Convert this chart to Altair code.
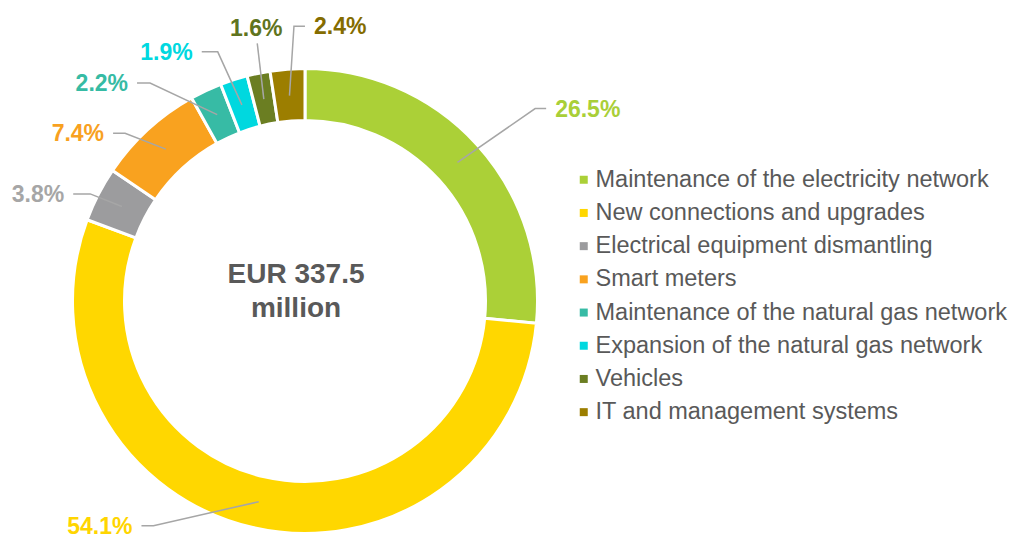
import math
import altair as alt
import pandas as pd

# ---------------- data ----------------
categories = [
    "Maintenance of the electricity network",
    "New connections and upgrades",
    "Electrical equipment dismantling",
    "Smart meters",
    "Maintenance of the natural gas network",
    "Expansion of the natural gas network",
    "Vehicles",
    "IT and management systems",
]
shares = [26.5, 54.1, 3.8, 7.4, 2.2, 1.9, 1.6, 2.4]
center_lines = ["EUR 337.5", "million"]

# ---------------- styles ----------------
slice_colors = ["#ABD037", "#FFD700", "#9C9C9E", "#F9A21F",
                "#37BBA5", "#00D8DF", "#6B7E22", "#9C7E00"]
label_colors = ["#A9CF38", "#FFD500", "#A6A6A6", "#F8A11F",
                "#36BBA4", "#00D8E0", "#5F7420", "#846C00"]

# ---------------- layout (label placement, not data) ----------------
CX, CY = 297, 293          # donut centre (px)
R_OUT, R_IN = 232.5, 180.5
R_START = 206              # where leader lines begin inside the ring
elbow_angle = [50.1, 214.0, 296.5, 313.0, 324.6, 340.7, 349.5, 357.7]
elbow_radius = [300, 271, 240, 246, 267.5, 264, 262, 275]
hseg = [11, -12, -17, -12, -13, -16, 0, 11]
label_gap = 9

total = sum(shares)
cum = 0.0
line_rows, text_rows = [], []
for i, (cat, s) in enumerate(zip(categories, shares)):
    mid = (cum + s / 2) / total * 360
    cum += s

    def pt(theta, r):
        t = math.radians(theta)
        return CX + r * math.sin(t), CY - r * math.cos(t)

    x0, y0 = pt(mid, R_START)
    x1, y1 = pt(elbow_angle[i], elbow_radius[i])
    x2, y2 = x1 + hseg[i], y1
    for k, (x, y) in enumerate([(x0, y0), (x1, y1), (x2, y2)]):
        line_rows.append({"id": i, "k": k, "x": x, "y": y})
    if hseg[i] > 0:
        align, tx, ty = "left", x2 + label_gap, y2 + 1
    elif hseg[i] < 0:
        align, tx, ty = "right", x2 - label_gap, y2 + 1
    else:
        align, tx, ty = "center", x2 - 1, y2 - 14
    text_rows.append({"label": f"{s:.1f}%", "x": tx, "y": ty,
                      "align": align, "color": label_colors[i]})

arc_df = pd.DataFrame({"category": categories, "share": shares,
                       "idx": list(range(len(shares)))})
line_df = pd.DataFrame(line_rows)
text_df = pd.DataFrame(text_rows)
center_df = pd.DataFrame({"t": center_lines, "x": [288, 288], "y": [275, 309]})

FONT = "Liberation Sans"

donut = alt.Chart(arc_df).mark_arc(
    radius=R_OUT, radius2=R_IN, stroke="white", strokeWidth=3
).encode(
    theta=alt.Theta("share:Q", stack=True),
    order=alt.Order("idx:Q"),
    x=alt.value(CX),
    y=alt.value(CY),
    color=alt.Color(
        "category:N",
        sort=categories,
        scale=alt.Scale(domain=categories, range=slice_colors),
        legend=alt.Legend(
            title=None, orient="none", legendX=564, legendY=160,
            symbolType="square", symbolSize=64, symbolStrokeWidth=0,
            labelFont=FONT, labelFontSize=23.5, labelColor="#595959",
            labelOffset=0, rowPadding=8.2, labelLimit=700, padding=0,
        ),
    ),
)

leaders = alt.Chart(line_df).mark_line(color="#A6A6A6", strokeWidth=1.5).encode(
    x=alt.X("x:Q", scale=None, axis=None),
    y=alt.Y("y:Q", scale=None, axis=None),
    detail="id:N",
    order="k:Q",
)

def label_layer(al):
    return alt.Chart(text_df).transform_filter(
        alt.datum.align == al
    ).mark_text(
        align=al, baseline="middle", font=FONT, fontSize=23, fontWeight="bold"
    ).encode(
        x=alt.X("x:Q", scale=None, axis=None),
        y=alt.Y("y:Q", scale=None, axis=None),
        text="label:N",
        color=alt.Color("color:N", scale=None),
    )

center = alt.Chart(center_df).mark_text(
    align="center", baseline="alphabetic", font=FONT, fontSize=28,
    fontWeight="bold", color="#595959"
).encode(
    x=alt.X("x:Q", scale=None, axis=None),
    y=alt.Y("y:Q", scale=None, axis=None),
    text="t:N",
)

chart = alt.layer(
    donut, leaders, label_layer("left"), label_layer("right"),
    label_layer("center"), center
).properties(
    width=1003, height=531, padding=0, background="white",
    autosize=alt.AutoSizeParams(type="none"),
).configure_view(stroke=None)

chart.save("out.html", embed_options={"renderer": "svg", "actions": False})
